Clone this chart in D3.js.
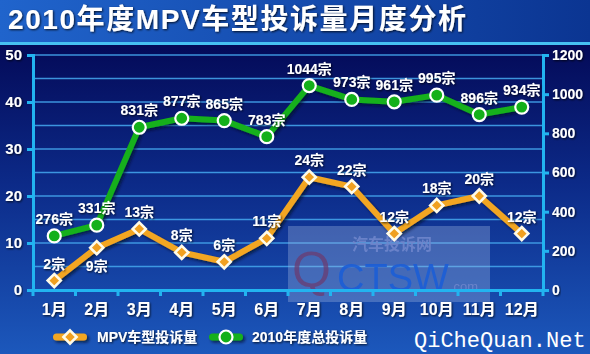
<!DOCTYPE html>
<html>
<head>
<meta charset="utf-8">
<script src="https://cdn.jsdelivr.net/npm/d3@7"></script>
<style>
  html, body { margin: 0; padding: 0; background: #0d3b9c; }
  svg { display: block; }
</style>
</head>
<body>
<svg id="chart"></svg>
<script>
// data
var months = ["1月","2月","3月","4月","5月","6月","7月","8月","9月","10月","11月","12月"]
var mpv = [2, 9, 13, 8, 6, 11, 24, 22, 12, 18, 20, 12]
var total = [276, 331, 831, 877, 865, 783, 1044, 973, 961, 995, 896, 934]
var leftTicks = [0, 10, 20, 30, 40, 50]
var rightTicks = [0, 200, 400, 600, 800, 1000, 1200]
var gridVals = [5, 10, 15, 20, 25, 30, 35, 40, 45, 50]
var seriesNames = ["MPV车型投诉量", "2010年度总投诉量"]

var width = 590
var height = 354
var sans = "\"Liberation Sans\", Arial, \"Noto Sans CJK SC\", sans-serif"
var svg = d3.select("#chart").attr("width", width).attr("height", height)
  .attr("font-family", sans)

var defs = svg.append("defs")
var bg = defs.append("linearGradient").attr("id", "bg").attr("x1", 0).attr("y1", 0).attr("x2", 0).attr("y2", 1)
bg.append("stop").attr("offset", "0%").attr("stop-color", "#040a58")
bg.append("stop").attr("offset", "45%").attr("stop-color", "#0c2a88")
bg.append("stop").attr("offset", "100%").attr("stop-color", "#1c58bc")
var tb = defs.append("linearGradient").attr("id", "tb").attr("x1", 0).attr("y1", 0).attr("x2", 1).attr("y2", 0)
tb.append("stop").attr("offset", "0%").attr("stop-color", "#2064cc")
tb.append("stop").attr("offset", "100%").attr("stop-color", "#0b3592")
var sh = defs.append("filter").attr("id", "sh").attr("filterUnits", "userSpaceOnUse")
  .attr("x", 0).attr("y", 0).attr("width", width).attr("height", height)
sh.append("feDropShadow").attr("dx", 2).attr("dy", 2).attr("stdDeviation", 1.5).attr("flood-color", "#000820").attr("flood-opacity", 0.7)
var tsh = defs.append("filter").attr("id", "tsh")
tsh.append("feDropShadow").attr("dx", 1).attr("dy", 1).attr("stdDeviation", 0.8).attr("flood-color", "#000").attr("flood-opacity", 0.8)

// backgrounds
svg.append("rect").attr("x", 0).attr("y", 44).attr("width", width).attr("height", height - 44).attr("fill", "url(#bg)")
svg.append("rect").attr("x", 0).attr("y", 0).attr("width", width).attr("height", 43).attr("fill", "url(#tb)")
svg.append("rect").attr("x", 0).attr("y", 42).attr("width", width).attr("height", 3).attr("fill", "#46c0f2")

svg.append("text")
  .attr("x", 8).attr("y", 29)
  .attr("fill", "#fff").attr("font-size", 28).attr("font-weight", "bold")
  .attr("textLength", 458).attr("lengthAdjust", "spacing")
  .attr("filter", "url(#tsh)")
  .text("2010年度MPV车型投诉量月度分析")

// scales
var x = d3.scaleBand().domain(months).range([33, 543]).padding(0)
var yL = d3.scaleLinear().domain([0, 50]).range([290, 55])
var yR = d3.scaleLinear().domain([0, 1200]).range([290, 55])
var cx = d => x(d) + x.bandwidth() / 2

// gridlines
svg.append("g").selectAll("line").data(gridVals).enter().append("line")
  .attr("x1", 33).attr("x2", 543)
  .attr("y1", d => yL(d)).attr("y2", d => yL(d))
  .attr("stroke", "#42a2ea").attr("stroke-width", 1.5).attr("opacity", 0.9)

// watermark box
var wm = svg.append("g")
wm.append("rect").attr("x", 288).attr("y", 226).attr("width", 202).attr("height", 76).attr("fill", "#9fb4e0").attr("opacity", 0.35)
wm.append("text").attr("x", 352).attr("y", 250).attr("font-size", 16).attr("font-weight", "bold")
  .attr("fill", "#6f86cc").attr("opacity", 0.9).text("汽车投诉网")
wm.append("text").attr("x", 292).attr("y", 287).attr("font-size", 50)
  .attr("fill", "#6a3c72").attr("opacity", 0.75).text("Q")
wm.append("text").attr("x", 337).attr("y", 291).attr("font-size", 38)
  .attr("fill", "#1c5ed6").attr("opacity", 0.9).text("CTSW")
wm.append("text").attr("x", 450).attr("y", 291).attr("font-size", 13)
  .attr("fill", "#6f86cc").attr("opacity", 0.9).text(".com")

// axes
var axisColor = "#22b4f0"
var gL = svg.append("g").attr("transform", "translate(33,0)")
  .call(d3.axisLeft(yL).tickValues(leftTicks).tickSize(6).tickPadding(5))
var gR = svg.append("g").attr("transform", "translate(543,0)")
  .call(d3.axisRight(yR).tickValues(rightTicks).tickFormat(d3.format("d")).tickSize(6).tickPadding(3))
var gB = svg.append("g").attr("transform", "translate(0,290)")
  .call(d3.axisBottom(x).tickSize(0).tickPadding(14))
;[gL, gR, gB].forEach(function(g) {
  g.select(".domain").attr("stroke", axisColor).attr("stroke-width", 3)
  g.selectAll(".tick line").attr("stroke", axisColor).attr("stroke-width", 3)
  g.selectAll("text").attr("fill", "#fff").attr("font-weight", "bold")
    .attr("font-family", sans)
    .attr("filter", "url(#tsh)")
})
gL.selectAll("text").attr("font-size", 15)
gR.selectAll("text").attr("font-size", 14)
gB.selectAll("text").attr("font-size", 16)
// tick marks on band boundaries of x axis
gB.selectAll(".bt").data(months).enter().append("line")
  .attr("x1", d => x(d)).attr("x2", d => x(d))
  .attr("y1", 0).attr("y2", 6)
  .attr("stroke", axisColor).attr("stroke-width", 3)
gB.append("line").attr("x1", 543).attr("x2", 543).attr("y1", 0).attr("y2", 6)
  .attr("stroke", axisColor).attr("stroke-width", 3)

// lines
var lineL = d3.line().x((d, i) => cx(months[i])).y(d => yL(d))
var lineR = d3.line().x((d, i) => cx(months[i])).y(d => yR(d))
var orange = "#f2a623"
var green = "#14b01a"

svg.append("path").datum(total).attr("d", lineR)
  .attr("fill", "none").attr("stroke", green).attr("stroke-width", 6)
  .attr("stroke-linejoin", "round").attr("filter", "url(#sh)")
svg.append("path").datum(mpv).attr("d", lineL)
  .attr("fill", "none").attr("stroke", orange).attr("stroke-width", 6)
  .attr("stroke-linejoin", "round").attr("filter", "url(#sh)")

svg.append("g").selectAll("circle").data(total).enter().append("circle")
  .attr("cx", (d, i) => cx(months[i])).attr("cy", d => yR(d)).attr("r", 6.5)
  .attr("fill", green).attr("stroke", "#fff").attr("stroke-width", 2.2)

var diamond = d3.symbol().type(d3.symbolDiamond2).size(110)
svg.append("g").selectAll("path").data(mpv).enter().append("path")
  .attr("d", diamond)
  .attr("transform", (d, i) => "translate(" + cx(months[i]) + "," + yL(d) + ")")
  .attr("fill", "#f0a020").attr("stroke", "#fffbe8").attr("stroke-width", 2.6)

// value labels
svg.append("g").selectAll("text").data(total).enter().append("text")
  .attr("x", (d, i) => cx(months[i])).attr("y", d => yR(d) - 12)
  .attr("text-anchor", "middle").attr("fill", "#fff").attr("font-size", 14).attr("font-weight", "bold")
  .attr("filter", "url(#tsh)")
  .text(d => d + "宗")
svg.append("g").selectAll("text").data(mpv).enter().append("text")
  .attr("x", (d, i) => cx(months[i])).attr("y", (d, i) => i == 1 ? yL(d) + 23 : yL(d) - 12)
  .attr("text-anchor", "middle").attr("fill", "#fff").attr("font-size", 14).attr("font-weight", "bold")
  .attr("filter", "url(#tsh)")
  .text(d => d + "宗")

// legend
var lg = svg.append("g")
lg.append("rect").attr("x", 53).attr("y", 333.5).attr("width", 34).attr("height", 7).attr("rx", 3.5)
  .attr("fill", orange).attr("filter", "url(#sh)")
lg.append("path").attr("d", diamond).attr("transform", "translate(70,337)")
  .attr("fill", "#f0a020").attr("stroke", "#fffbe8").attr("stroke-width", 2.6)
lg.append("text").attr("x", 97).attr("y", 342).attr("fill", "#fff").attr("font-size", 14).attr("font-weight", "bold")
  .attr("filter", "url(#tsh)").text(seriesNames[0])
lg.append("rect").attr("x", 209).attr("y", 333.5).attr("width", 34).attr("height", 7).attr("rx", 3.5)
  .attr("fill", green).attr("filter", "url(#sh)")
lg.append("circle").attr("cx", 226).attr("cy", 337).attr("r", 6.5)
  .attr("fill", green).attr("stroke", "#fff").attr("stroke-width", 2.2)
lg.append("text").attr("x", 252).attr("y", 342).attr("fill", "#fff").attr("font-size", 14).attr("font-weight", "bold")
  .attr("filter", "url(#tsh)").text(seriesNames[1])

// site mark
svg.append("text").attr("x", 414).attr("y", 347)
  .attr("fill", "#fff").attr("font-size", 22)
  .attr("font-family", "\"Liberation Mono\", \"DejaVu Sans Mono\", monospace")
  .text("QiCheQuan.Net")
</script>
</body>
</html>
